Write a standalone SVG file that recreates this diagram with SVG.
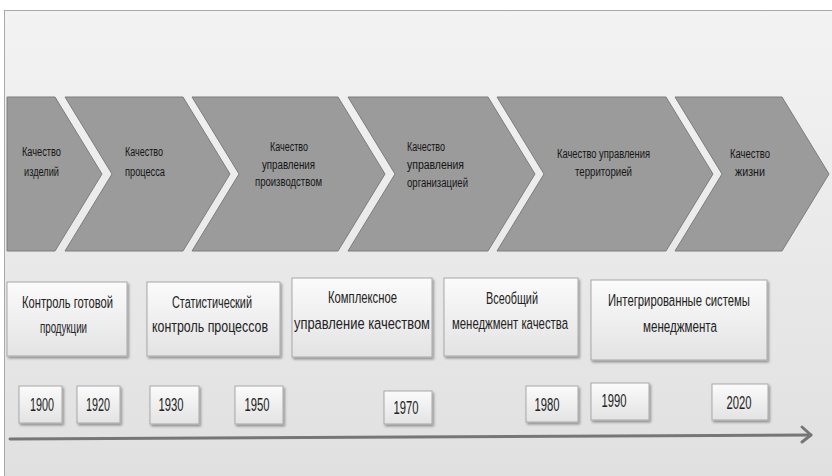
<svg xmlns="http://www.w3.org/2000/svg" width="832" height="476" viewBox="0 0 832 476">
<defs>
<linearGradient id="bg" x1="0" y1="0" x2="0" y2="1"><stop offset="0" stop-color="#f3f3f3"/><stop offset="1" stop-color="#e0e0e0"/></linearGradient>
<linearGradient id="bx" x1="0" y1="0" x2="0" y2="1"><stop offset="0" stop-color="#fbfbfb"/><stop offset="1" stop-color="#e3e3e3"/></linearGradient>
<filter id="sh" x="-10%" y="-10%" width="130%" height="140%"><feDropShadow dx="1.5" dy="2" stdDeviation="1.2" flood-color="#000" flood-opacity="0.35"/></filter>
<style>
.ch{fill:#9b9b9b;stroke:#7d7d7d;stroke-width:1}
.ct{font-family:"Liberation Sans",sans-serif;font-size:12px;fill:#151515}
.bx{fill:url(#bx);stroke:#a8a8a8;stroke-width:1;filter:url(#sh)}
.bt{font-family:"Liberation Sans",sans-serif;font-size:17px;fill:#222;text-anchor:middle}
.yt{font-family:"Liberation Sans",sans-serif;font-size:18px;fill:#222;text-anchor:middle}
.m{text-anchor:middle}
</style>
</defs>
<rect x="0" y="0" width="832" height="476" fill="#ffffff"/>
<rect x="4.5" y="10.5" width="830" height="470" fill="url(#bg)" stroke="#a9a9a9" stroke-width="1"/>

<g id="stage1"><polygon class="ch" points="7,97 55,97 102,174 55,251 7,251"/>
<text class="ct m" x="41.5" y="156" textLength="39" lengthAdjust="spacingAndGlyphs">Качество</text><text class="ct m" x="41.5" y="176" textLength="35" lengthAdjust="spacingAndGlyphs">изделий</text></g>
<g id="stage2"><polygon class="ch" points="65,97 183,97 230,174 183,251 65,251 112,174"/>
<text class="ct" x="125" y="156" textLength="38" lengthAdjust="spacingAndGlyphs">Качество</text><text class="ct" x="125" y="176" textLength="40" lengthAdjust="spacingAndGlyphs">процесса</text></g>
<g id="stage3"><polygon class="ch" points="192,97 338,97 385,174 338,251 192,251 239,174"/>
<text class="ct m" x="289" y="151" textLength="38" lengthAdjust="spacingAndGlyphs">Качество</text><text class="ct m" x="288.5" y="169" textLength="53" lengthAdjust="spacingAndGlyphs">управления</text><text class="ct m" x="288.5" y="186" textLength="67" lengthAdjust="spacingAndGlyphs">производством</text></g>
<g id="stage4"><polygon class="ch" points="348,97 488,97 535,174 488,251 348,251 395,174"/>
<text class="ct" x="407" y="151" textLength="38" lengthAdjust="spacingAndGlyphs">Качество</text><text class="ct" x="407" y="169" textLength="57" lengthAdjust="spacingAndGlyphs">управления</text><text class="ct" x="407" y="187" textLength="61" lengthAdjust="spacingAndGlyphs">организацией</text></g>
<g id="stage5"><polygon class="ch" points="497,97 666,97 713,174 666,251 497,251 544,174"/>
<text class="ct m" x="603.5" y="158" textLength="93" lengthAdjust="spacingAndGlyphs">Качество управления</text><text class="ct m" x="603.5" y="176" textLength="57" lengthAdjust="spacingAndGlyphs">территорией</text></g>
<g id="stage6"><polygon class="ch" points="675,97 782,97 829,174 782,251 675,251 722,174"/>
<text class="ct m" x="750" y="158" textLength="40" lengthAdjust="spacingAndGlyphs">Качество</text><text class="ct m" x="750" y="176" textLength="30" lengthAdjust="spacingAndGlyphs">жизни</text></g>

<g id="method1"><rect class="bx" x="7" y="282" width="120" height="74"/>
<g transform="scale(0.7,1)"><text class="bt" x="96.43" y="308" textLength="130" lengthAdjust="spacingAndGlyphs">Контроль готовой</text><text class="bt" x="90.71" y="333" textLength="67.14" lengthAdjust="spacingAndGlyphs">продукции</text></g></g>
<g id="method2"><rect class="bx" x="147" y="282" width="133" height="74"/>
<g transform="scale(0.7,1)"><text class="bt" x="302.86" y="308" textLength="114.29" lengthAdjust="spacingAndGlyphs">Статистический</text><text class="bt" x="300" y="332" textLength="165.71" lengthAdjust="spacingAndGlyphs">контроль процессов</text></g></g>
<g id="method3"><rect class="bx" x="292" y="278" width="140" height="79"/>
<g transform="scale(0.7,1)"><text class="bt" x="517.86" y="303" textLength="98.57" lengthAdjust="spacingAndGlyphs">Комплексное</text><text class="bt" x="517.14" y="329" textLength="194.29" lengthAdjust="spacingAndGlyphs">управление  качеством</text></g></g>
<g id="method4"><rect class="bx" x="444" y="278" width="134" height="78"/>
<g transform="scale(0.7,1)"><text class="bt" x="731.43" y="304" textLength="74.29" lengthAdjust="spacingAndGlyphs">Всеобщий</text><text class="bt" x="728.57" y="329" textLength="165.71" lengthAdjust="spacingAndGlyphs">менеджмент качества</text></g></g>
<g id="method5"><rect class="bx" x="591" y="280" width="176" height="80"/>
<g transform="scale(0.7,1)"><text class="bt" x="970" y="306" textLength="202.86" lengthAdjust="spacingAndGlyphs">Интегрированные системы</text><text class="bt" x="971.43" y="332" textLength="105.71" lengthAdjust="spacingAndGlyphs">менеджмента</text></g></g>

<g id="y1900"><rect class="bx" x="19" y="386" width="43" height="37"/><text class="yt" x="42" y="411" textLength="24" lengthAdjust="spacingAndGlyphs">1900</text></g>
<g id="y1920"><rect class="bx" x="77" y="386" width="43" height="37"/><text class="yt" x="98" y="411" textLength="24" lengthAdjust="spacingAndGlyphs">1920</text></g>
<g id="y1930"><rect class="bx" x="150" y="386" width="49" height="38"/><text class="yt" x="171" y="411" textLength="25" lengthAdjust="spacingAndGlyphs">1930</text></g>
<g id="y1950"><rect class="bx" x="235" y="386" width="48" height="38"/><text class="yt" x="257" y="411" textLength="25" lengthAdjust="spacingAndGlyphs">1950</text></g>
<g id="y1970"><rect class="bx" x="384" y="391" width="48" height="33"/><text class="yt" x="406" y="414" textLength="25" lengthAdjust="spacingAndGlyphs">1970</text></g>
<g id="y1980"><rect class="bx" x="526" y="386" width="52" height="36"/><text class="yt" x="547" y="411" textLength="25" lengthAdjust="spacingAndGlyphs">1980</text></g>
<g id="y1990"><rect class="bx" x="591" y="383" width="58" height="37"/><text class="yt" x="614" y="407" textLength="25" lengthAdjust="spacingAndGlyphs">1990</text></g>
<g id="y2020"><rect class="bx" x="712" y="384" width="56" height="36"/><text class="yt" x="739" y="409" textLength="25" lengthAdjust="spacingAndGlyphs">2020</text></g>

<g id="connectors" fill="none" stroke="#767676" stroke-width="3" stroke-linecap="round" stroke-linejoin="round">
<line x1="10" y1="439" x2="811" y2="435"/>
<polyline points="802,427 811,435 802,442"/>
</g>
</svg>
